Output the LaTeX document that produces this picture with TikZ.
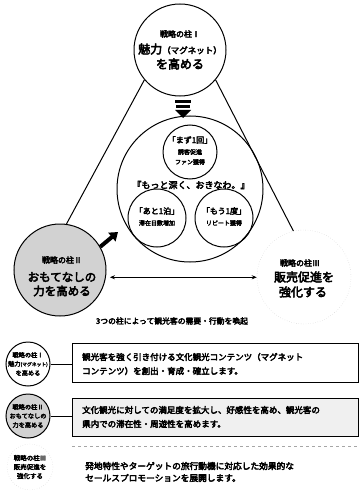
\documentclass[tikz,border=0pt]{standalone}
\usepackage{fontspec}
\setmainfont{Noto Sans CJK JP}[AutoFakeBold=4]
\usetikzlibrary{arrows.meta}
\newcommand{\fsz}[1]{\fontsize{#1}{#1}\selectfont}
\begin{document}
\begin{tikzpicture}[x=1pt,y=-1pt,
  txt/.style={inner sep=0pt, font=\bfseries},
  pillar/.style={circle, draw=black, line width=1pt, inner sep=0pt},
  faint/.style={circle, draw=gray!45, dotted, line width=0.4pt, inner sep=0pt},
  link/.style={draw=black, line width=1pt},
  box/.style={draw=black, line width=0.8pt, inner sep=0pt},
  bt/.style={inner sep=0pt, anchor=west, font=\bfseries\fsz{8.5}}
]
\useasboundingbox[fill=white] (0,0) rectangle (360,492);

% ---------- top pillar ----------
\node[pillar, minimum size=92pt, fill=white] (top) at (180,50) {};
\node[txt, font=\bfseries\fsz{8}] (t1) at (180,34) {戦略の柱Ⅰ};
\node[txt, font=\bfseries\fsz{12}] (t2) at (180,49) {魅力{\fsz{8.5}（マグネット）}};
\node[txt, font=\bfseries\fsz{12}] (t3) at (180,64) {を高める};

% ---------- big circle ----------
\node[pillar, minimum size=146pt] (big) at (190,189) {};
\node[pillar, minimum size=54pt] (in1) at (190,152) {};
\node[pillar, minimum size=58pt] (in2) at (157,218) {};
\node[pillar, minimum size=58pt] (in3) at (224,218) {};
\node[txt, font=\bfseries\fsz{8}] (a1) at (190,140) {「まず1回」};
\node[txt, font=\bfseries\fsz{6}] (a2) at (190,152) {誘客促進};
\node[txt, font=\bfseries\fsz{6}] (a3) at (190,162) {ファン獲得};
\node[txt, font=\bfseries\fsz{9}] (slogan) at (191,185) {『もっと深く、おきなわ。』};
\node[txt, font=\bfseries\fsz{8}] (b1) at (157,211) {「あと1泊」};
\node[txt, font=\bfseries\fsz{6}] (b2) at (157,223) {滞在日数増加};
\node[txt, font=\bfseries\fsz{8}] (c1) at (224,211) {「もう1度」};
\node[txt, font=\bfseries\fsz{6}] (c2) at (224,223) {リピート獲得};

% down mark
\fill (175,100) rectangle (191,103);
\fill (176,105) rectangle (190,108);
\fill (175,110) -- (191,110) -- (183,118) -- cycle;

% ---------- left pillar ----------
\node[pillar, minimum size=92pt, fill=gray!35] (left) at (60,270) {};
\node[txt, font=\bfseries\fsz{8}] (l1t) at (62,260) {戦略の柱Ⅱ};
\node[txt, font=\bfseries\fsz{11.5}] (l2t) at (62,277) {おもてなしの};
\node[txt, font=\bfseries\fsz{11.5}] (l3t) at (62,291) {力を高める};

% ---------- right pillar ----------
\node[faint, minimum size=94pt] (right) at (304,277) {};
\node[txt, font=\bfseries\fsz{8}] (r1t) at (300,263) {戦略の柱Ⅲ};
\node[txt, font=\bfseries\fsz{12}] (r2t) at (304,277) {販売促進を};
\node[txt, font=\bfseries\fsz{12}] (r3t) at (303,292) {強化する};

% ---------- connectors ----------
\draw[link] (top.220) -- (left.82);
\draw[link] (top.-40) -- (right.103);
\coordinate (arrtip) at (118,232);
\draw[line width=4pt, -{Triangle[length=8pt,width=11pt]}] (left.30) -- (arrtip);
\draw[line width=1pt, {Stealth[length=5pt,width=4pt]}-{Stealth[length=5pt,width=4pt]}, shorten <=4pt] (left.-9) -- (left.-9 -| right.west);

\node[txt, font=\bfseries\fsz{7.8}] (cap) at (172,321) {3つの柱によって観光客の需要・行動を喚起};

% ---------- legend 1 ----------
\node[pillar, minimum size=44pt, fill=white] (g1) at (28,364) {};
\node[txt, font=\bfseries\fsz{6.2}] (g1a) at (28,355) {戦略の柱Ⅰ};
\node[txt, font=\bfseries\fsz{6.2}] (g1b) at (28,364) {魅力{\fsz{4.8}(マグネット)}};
\node[txt, font=\bfseries\fsz{6.2}] (g1c) at (28,373) {を高める};
\node[box, minimum width=286pt, minimum height=39pt, anchor=north west] (box1) at (72,343) {};
\draw[link] (g1.east) -- (g1.east -| box1.west);
\node[bt] (x1) at (82,357) {観光客を強く引き付ける文化観光コンテンツ（マグネット};
\node[bt] (x2) at (82,371) {コンテンツ）を創出・育成・確立します。};

% ---------- legend 2 ----------
\node[pillar, minimum size=44pt, fill=gray!35] (g2) at (28,416) {};
\node[txt, font=\bfseries\fsz{6.2}] (g2a) at (28,407) {戦略の柱Ⅱ};
\node[txt, font=\bfseries\fsz{6.2}] (g2b) at (28,416) {おもてなしの};
\node[txt, font=\bfseries\fsz{6.2}] (g2c) at (28,425) {力を高める};
\node[box, fill=gray!12, minimum width=286pt, minimum height=38pt, anchor=north west] (box2) at (72,398) {};
\draw[link] (g2.east) -- (g2.east -| box2.west);
\node[bt] (y1) at (82,410) {文化観光に対しての満足度を拡大し、好感性を高め、観光客の};
\node[bt] (y2) at (82,424) {県内での滞在性・周遊性を高めます。};

% ---------- legend 3 ----------
\node[faint, minimum size=46pt] (g3) at (30,467) {};
\node[txt, font=\bfseries\fsz{6.5}] (g3a) at (30,458) {戦略の柱Ⅲ};
\node[txt, font=\bfseries\fsz{6.5}] (g3b) at (30,467) {販売促進を};
\node[txt, font=\bfseries\fsz{6.5}] (g3c) at (30,476) {強化する};
\coordinate (b3l) at (72,446);
\coordinate (b3r) at (358,446);
\draw[dashed, gray!70, line width=0.5pt] (b3l) -- (b3r);
\node[bt, font=\bfseries\fsz{8.7}] (z1) at (85,466) {発地特性やターゲットの旅行動機に対応した効果的な};
\node[bt, font=\bfseries\fsz{8.7}] (z2) at (85,478) {セールスプロモーションを展開します。};
\end{tikzpicture}
\end{document}
